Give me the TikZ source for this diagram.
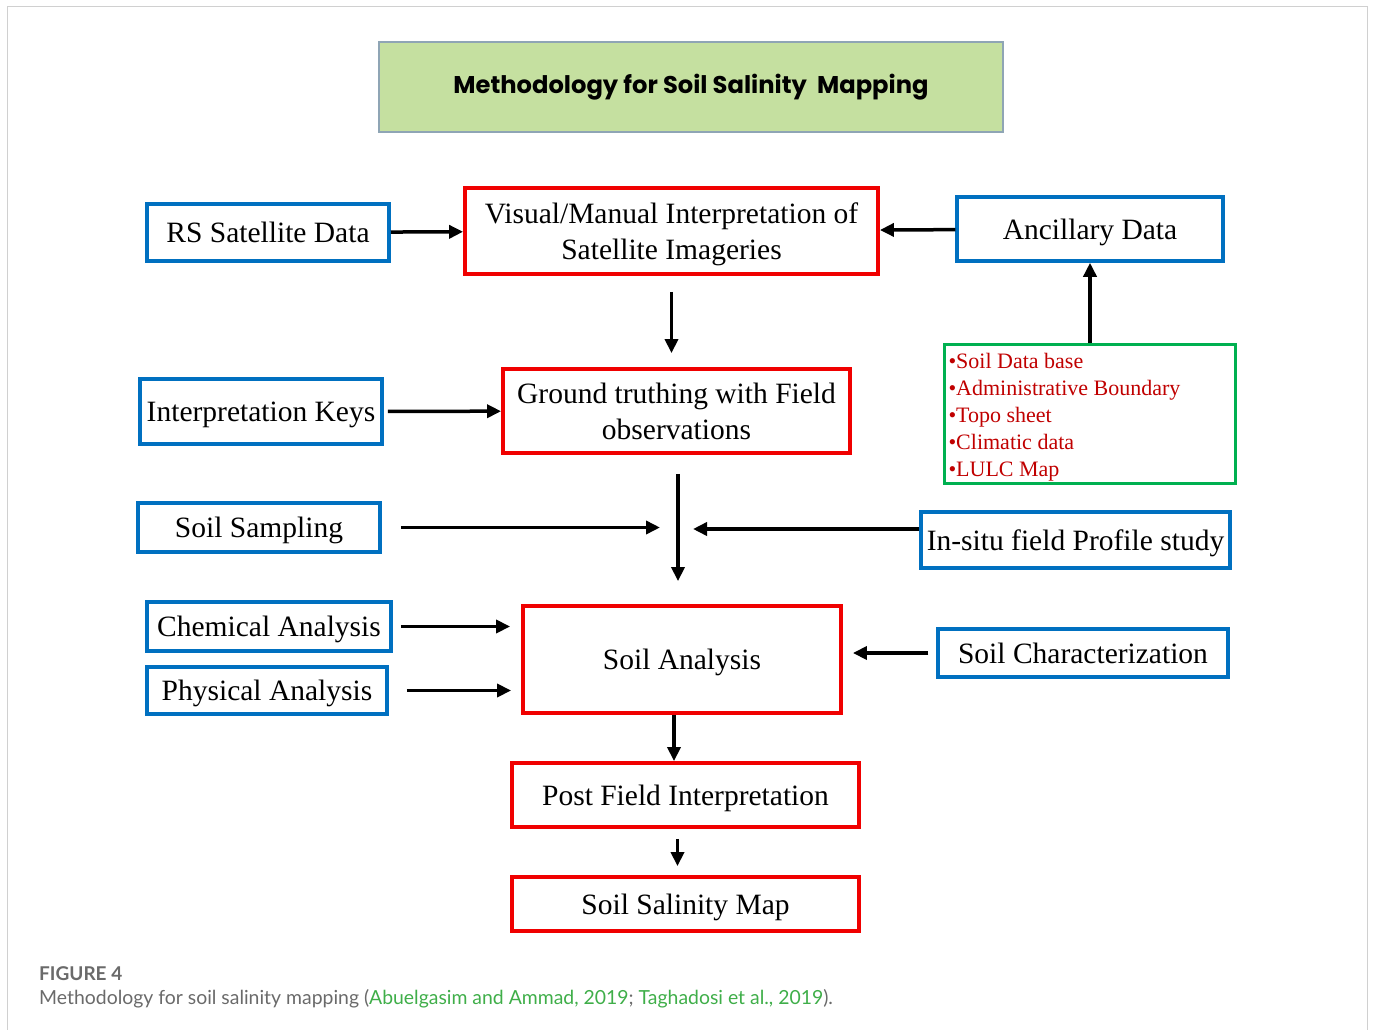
\documentclass[tikz,border=0pt]{standalone}
\usepackage{fontspec}
\usepackage{xcolor}
\usepackage{tikz}
\usetikzlibrary{arrows.meta}
\setmainfont{Liberation Serif}
\newfontfamily\titlefont{Poppins}
\newfontfamily\capfont{Lato}

\definecolor{boxblue}{HTML}{0070C0}
\definecolor{boxred}{HTML}{F00000}
\definecolor{boxgreen}{HTML}{00B050}
\definecolor{listred}{HTML}{C00000}
\definecolor{titlefill}{HTML}{C5E0A0}
\definecolor{titleline}{HTML}{8FA5B5}
\definecolor{framegray}{HTML}{D0D0D0}
\definecolor{capgray}{HTML}{6A6A6A}
\definecolor{citegreen}{HTML}{3FAE49}

\tikzset{
  bluebox/.style={draw=boxblue, line width=3.5pt, align=center, inner sep=0pt, text depth=0pt,
                  font=\fontsize{29.5}{36}\selectfont},
  redbox/.style={draw=boxred, line width=3.8pt, align=center, inner sep=0pt, text depth=0pt,
                 font=\fontsize{29.5}{36}\selectfont},
  arr/.style={-{Triangle[length=14pt,width=13pt]}, line width=3.5pt}
}

\begin{document}
\begin{tikzpicture}[x=1pt,y=-1pt]
\useasboundingbox (0,0) rectangle (1373,1030);
\draw [framegray, line width=1pt] (7,1040) -- (7,7) -- (1367,7) -- (1367,1040);

% heading
\node (head) [draw=titleline, fill=titlefill, line width=1.5pt, minimum width=624pt, minimum height=90pt,
  font=\titlefont\bfseries\fontsize{24.2}{30}\selectfont] at (691,87) {Methodology for Soil Salinity\ \ Mapping};

% boxes
\node (rs) [bluebox, minimum width=242pt, minimum height=57pt] at (268,232.5) {RS Satellite Data};
\node (vis) [redbox, minimum width=413pt, minimum height=86pt] at (671.5,231) {Visual/Manual Interpretation of\\Satellite Imageries};
\node (anc) [bluebox, minimum width=266pt, minimum height=64pt] at (1090,229) {Ancillary Data};
\node (lst) [draw=boxgreen, line width=3pt, minimum width=291pt, minimum height=133pt, text width=283pt,
  inner sep=2pt, align=flush left, text=listred, font=\fontsize{22}{27}\selectfont] at (1090,414)
  {\raisebox{0pt}[22pt]{}\textbullet Soil Data base\\\textbullet Administrative Boundary\\\textbullet Topo sheet\\\textbullet Climatic data\\\textbullet LULC Map};
\node (keys) [bluebox, minimum width=242pt, minimum height=65pt] at (261,411.5) {Interpretation Keys};
\node (grd) [redbox, minimum width=347pt, minimum height=84pt] at (676.5,411) {Ground truthing with Field\\observations};
\node (samp) [bluebox, minimum width=242pt, minimum height=49pt] at (259,527.5) {Soil Sampling};
\node (insitu) [bluebox, minimum width=309pt, minimum height=56pt] at (1075.5,540) {In-situ field Profile study};
\node (chem) [bluebox, minimum width=244pt, minimum height=49pt] at (269,626.5) {Chemical Analysis};
\node (phys) [bluebox, minimum width=240pt, minimum height=47pt] at (267,690.5) {Physical Analysis};
\node (soil) [redbox, minimum width=318pt, minimum height=107pt] at (682,659.5) {Soil Analysis};
\node (char) [bluebox, minimum width=290pt, minimum height=48pt] at (1083,653) {Soil Characterization};
\node (post) [redbox, minimum width=347pt, minimum height=64pt] at (685.5,795) {Post Field Interpretation};
\node (map) [redbox, minimum width=347pt, minimum height=54pt] at (685.5,904) {Soil Salinity Map};

\coordinate (jn) at (678,529);

% arrows
\draw [arr] (rs) -- (vis);
\draw [arr] (anc) -- (vis);
\draw [arr, shorten <=16pt, shorten >=14pt] (vis.south) -- (vis.south |- grd.north);
\draw [arr] (lst.north) -- (anc.south);
\draw [arr, shorten <=4pt] (keys) -- (grd);
\draw [arr, shorten <=19pt, shorten >=23pt] (grd.south -| jn) -- (jn |- soil.north);
\draw [arr, shorten <=19pt, shorten >=18pt] (samp.east) -- (samp.east -| jn);
\draw [arr, shorten >=15pt] (insitu.west |- jn) -- (jn);
\draw [arr, shorten <=8pt, shorten >=11pt] (chem.east) -- (chem.east -| soil.west);
\draw [arr, shorten <=18pt, shorten >=10pt] (phys.east) -- (phys.east -| soil.west);
\draw [arr, shorten <=8pt, shorten >=10pt] (char.west) -- (char.west -| soil.east);
\draw [arr] ([xshift=-8pt]soil.south) -- ([xshift=-8pt]soil.south |- post.north);
\draw [arr, shorten <=10pt, shorten >=9pt] ([xshift=-8pt]post.south) -- ([xshift=-8pt]post.south |- map.north);

% caption
\node (fig) [anchor=base west, inner sep=0pt, text=capgray, font=\capfont\bfseries\fontsize{19}{22}\selectfont]
  at (39,980) {FIGURE 4};
\node (cap) [anchor=base west, inner sep=0pt, text=capgray, font=\capfont\fontsize{19.4}{22}\selectfont]
  at (39,1004) {Methodology for soil salinity mapping (\textcolor{citegreen}{Abuelgasim and Ammad, 2019}; \textcolor{citegreen}{Taghadosi et al., 2019}).};
\end{tikzpicture}
\end{document}
